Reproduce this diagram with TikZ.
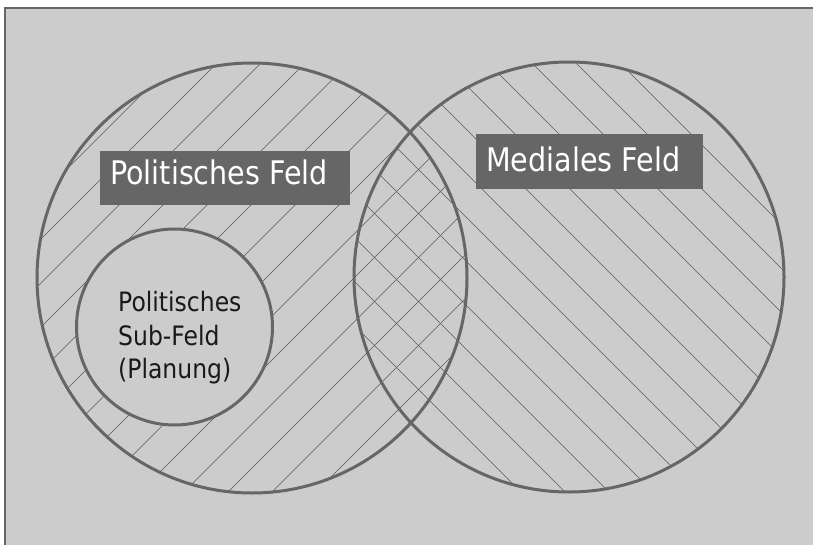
\documentclass[tikz,border=0pt]{standalone}
\usepackage{fontspec}
\setmainfont{DejaVu Sans}[FakeStretch=0.88]
\definecolor{bgc}{HTML}{CCCCCC}
\definecolor{edgec}{HTML}{666666}
\definecolor{hatchc}{HTML}{5A5A5A}
\tikzset{
  ring/.style={draw=edgec, line width=3pt, circle, inner sep=0pt},
  hatchline/.style={draw=hatchc, line width=0.6pt},
  labelbox/.style={fill=edgec, draw=none, rectangle, inner sep=0pt},
  bigtext/.style={text=white, inner sep=0pt, anchor=base west, font=\fontsize{32.5}{36}\selectfont},
  subtext/.style={text=black!90, inner sep=0pt, anchor=base west, font=\fontsize{26.7}{30}\selectfont}
}
\begin{document}
\begin{tikzpicture}[x=1pt,y=-1pt]
\useasboundingbox (0,0) rectangle (813,545);
% background
\fill[bgc] (4,8) rectangle (813,545);
\draw[edgec, line width=2.5pt] (5,545) -- (5,8) -- (813,8);
% hatching of the political field
\begin{scope}
  \clip (252,278) circle (215);
  \foreach \k in {4,...,19} {
    \pgfmathsetmacro{\c}{16+44*\k}
    \draw[hatchline] (\c+100,-100) -- (\c-700,700);
  }
\end{scope}
% hatching of the media field
\begin{scope}
  \clip (569,277) circle (215);
  \foreach \k in {-2,...,14} {
    \pgfmathsetmacro{\c}{29+44*\k}
    \draw[hatchline] (\c-100,-100) -- (\c+700,700);
  }
\end{scope}
% sub field (no hatching inside)
\node[ring, fill=bgc, minimum size=196pt] (sub) at (174.5,327) {};
% big circles
\node[ring, minimum size=430pt] (pol) at (252,278) {};
\node[ring, minimum size=430pt] (med) at (569,277) {};
% label boxes
\node[labelbox, minimum width=250pt, minimum height=54pt] (polbox) at (225,178) {};
\node[labelbox, minimum width=227pt, minimum height=55pt] (medbox) at (589.5,161.5) {};
\node[bigtext] (poltext) at (110,185) {Politisches Feld};
\node[bigtext] (medtext) at (486,171.7) {Mediales Feld};
% sub field text
\node[subtext] (sub1) at (118,311.7) {Politisches};
\node[subtext] (sub2) at (118,345) {Sub-Feld};
\node[subtext] (sub3) at (118,378) {(Planung)};
\end{tikzpicture}
\end{document}
